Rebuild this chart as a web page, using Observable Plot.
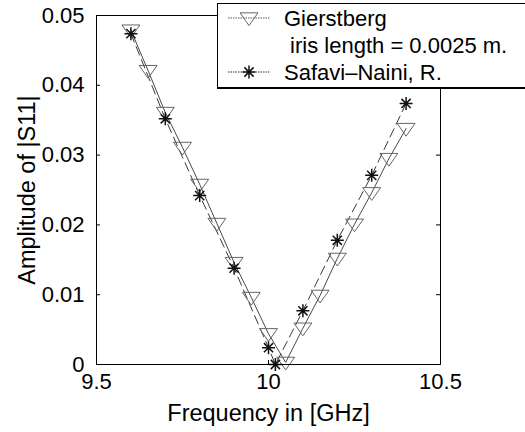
<!DOCTYPE html>
<html>
<head>
<meta charset="utf-8">
<script src="https://cdn.jsdelivr.net/npm/d3@7"></script>
<script src="https://cdn.jsdelivr.net/npm/@observablehq/plot@0.6"></script>
<style>
  html, body { margin: 0; padding: 0; background: #fff; }
  #wrap { position: relative; width: 525px; height: 432px; overflow: hidden; font-family: "Liberation Sans", Arial, Helvetica, sans-serif; }
  #legend { position: absolute; left: 217px; top: 3px; width: 320px; height: 86px; background: #fff; border: 1px solid #000; border-bottom-width: 2px; box-sizing: border-box; }
</style>
</head>
<body>
<div id="wrap"></div>
<script>
// Gierstberg model, iris length = 0.0025 m
const freqGierstberg = [9.6, 9.65, 9.7, 9.75, 9.8, 9.85, 9.9, 9.95, 10.0, 10.05, 10.1, 10.15, 10.2, 10.25, 10.3, 10.35, 10.4];
const ampGierstberg  = [0.0479, 0.0421, 0.0361, 0.0311, 0.0258, 0.0202, 0.0146, 0.0096, 0.0044, 0.0003, 0.0052, 0.0099, 0.0152, 0.0201, 0.0246, 0.0295, 0.0338];

// Safavi-Naini, R.
const freqSafavi = [9.6, 9.7, 9.8, 9.9, 10.0, 10.02, 10.1, 10.2, 10.3, 10.4];
const ampSafavi  = [0.0474, 0.0352, 0.0242, 0.0138, 0.0024, 0.0, 0.0077, 0.0178, 0.0271, 0.0374];

// Axis ticks
const xTicks = [9.5, 10, 10.5];
const yTicks = [0, 0.01, 0.02, 0.03, 0.04, 0.05];
const yTickLabels = ["0", "0.01", "0.02", "0.03", "0.04", "0.05"];

const seriesNames = ["Gierstberg", " iris length = 0.0025 m.", "Safavi\u2013Naini, R."];

const gierstberg = freqGierstberg.map((f, i) => ({f, a: ampGierstberg[i]}));
const safavi = freqSafavi.map((f, i) => ({f, a: ampSafavi[i]}));

// Downward-pointing open triangle (MATLAB "v" marker)
const triangleDown = {
  draw(ctx, size) {
    const r = Math.sqrt(size / Math.PI);
    const h = r * 1.15;
    ctx.moveTo(-h * 1.3, -h * 0.75);
    ctx.lineTo(h * 1.3, -h * 0.75);
    ctx.lineTo(0, h * 1.1);
    ctx.closePath();
  }
};
// Eight-armed asterisk (MATLAB "*" marker)
const asterisk8 = {
  draw(ctx, size) {
    const r = Math.sqrt(size / Math.PI);
    const d = r * Math.SQRT1_2;
    ctx.moveTo(-r, 0); ctx.lineTo(r, 0);
    ctx.moveTo(0, -r); ctx.lineTo(0, r);
    ctx.moveTo(-d, -d); ctx.lineTo(d, d);
    ctx.moveTo(-d, d); ctx.lineTo(d, -d);
  }
};

const plot = Plot.plot({
  width: 525,
  height: 432,
  marginLeft: 96,
  marginRight: 85,
  marginTop: 15,
  marginBottom: 68,
  style: {fontFamily: '"Liberation Sans", Arial, Helvetica, sans-serif', background: "#fff", color: "#000"},
  x: {domain: [9.5, 10.5]},
  y: {domain: [0, 0.05]},
  marks: [
    // inward tick marks on all four sides
    Plot.tickY(yTicks, {y: d => d, insetRight: 340, stroke: "#000"}),
    Plot.tickY(yTicks, {y: d => d, insetLeft: 340, stroke: "#000"}),
    Plot.tickX(xTicks, {x: d => d, insetTop: 345, stroke: "#000"}),
    Plot.tickX(xTicks, {x: d => d, insetBottom: 345, stroke: "#000"}),
    Plot.axisX({ticks: xTicks, tickSize: 0, tickPadding: 9, fontSize: 22, label: null, tickFormat: d => String(d)}),
    Plot.axisY({ticks: yTicks, tickSize: 0, tickPadding: 12, fontSize: 22, label: null, tickFormat: (d, i) => yTickLabels[i]}),
    Plot.text(["Frequency in [GHz]"], {frameAnchor: "bottom", dy: 49, fontSize: 23.5, lineAnchor: "middle"}),
    Plot.text(["Amplitude of |S11|"], {frameAnchor: "left", dx: -69, rotate: -90, fontSize: 23.5, lineAnchor: "middle", textAnchor: "middle"}),
    // series lines
    Plot.line(gierstberg, {x: "f", y: "a", stroke: "#333", strokeWidth: 0.9}),
    Plot.line(safavi, {x: "f", y: "a", stroke: "#222", strokeWidth: 0.9, strokeDasharray: "9,5"}),
    // markers
    Plot.dot(gierstberg, {x: "f", y: "a", symbol: triangleDown, r: 6, stroke: "#666", strokeWidth: 1, fill: "none"}),
    Plot.dot(safavi, {x: "f", y: "a", symbol: asterisk8, r: 6.5, stroke: "#111", strokeWidth: 1.5, fill: "none"}),
    Plot.frame({stroke: "#000", strokeWidth: 1})
  ]
});

const wrap = document.getElementById("wrap");
wrap.appendChild(plot);

// Legend box overlapping the top-right corner of the axes
const legend = document.createElement("div");
legend.id = "legend";
wrap.appendChild(legend);
const ns = "http://www.w3.org/2000/svg";
const lsvg = document.createElementNS(ns, "svg");
lsvg.setAttribute("width", "320");
lsvg.setAttribute("height", "84");
lsvg.style.position = "absolute";
lsvg.style.left = "0";
lsvg.style.top = "0";
legend.appendChild(lsvg);

function addEl(tag, attrs, parent = lsvg) {
  const el = document.createElementNS(ns, tag);
  for (const k in attrs) el.setAttribute(k, attrs[k]);
  parent.appendChild(el);
  return el;
}
function symbolPath(sym, r) {
  return d3.symbol(sym, Math.PI * r * r)();
}
const rows = [14, 41, 68];
// Gierstberg sample
addEl("line", {x1: 10, x2: 52, y1: rows[0], y2: rows[0], stroke: "#555", "stroke-width": 1, "stroke-dasharray": "1.5,1"});
addEl("path", {d: symbolPath(triangleDown, 6), transform: `translate(31,${rows[0]})`, fill: "none", stroke: "#666"});
// Safavi sample
addEl("line", {x1: 10, x2: 52, y1: rows[2], y2: rows[2], stroke: "#333", "stroke-width": 1, "stroke-dasharray": "1.5,1"});
addEl("path", {d: symbolPath(asterisk8, 6.5), transform: `translate(31,${rows[2]})`, fill: "none", stroke: "#111", "stroke-width": 1.5});
seriesNames.forEach((name, i) => {
  const t = addEl("text", {x: 66, y: rows[i], "font-size": 22, "dominant-baseline": "central", fill: "#000"});
  t.setAttribute("xml:space", "preserve");
  t.style.whiteSpace = "pre";
  t.textContent = name;
});
</script>
</body>
</html>
